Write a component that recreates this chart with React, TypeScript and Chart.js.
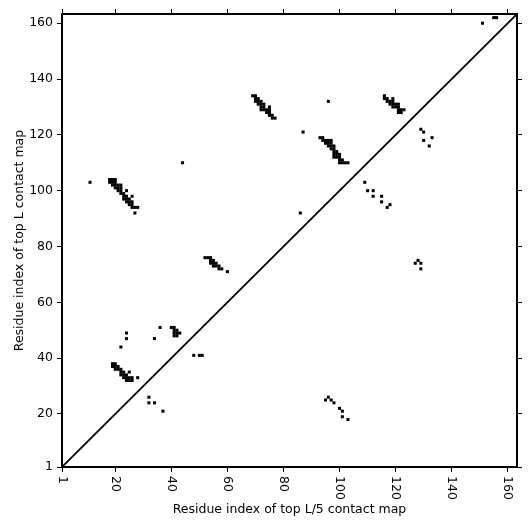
import React, { useEffect, useRef } from "react";
import { Chart, registerables } from "chart.js";

Chart.register(...registerables);

const AXIS_MIN = 1;
const AXIS_MAX = 163.3;
const tickValues = [1, 20, 40, 60, 80, 100, 120, 140, 160];
const xTitle = "Residue index of top L/5 contact map";
const yTitle = "Residue index of top L contact map";

// top L contacts (upper-left triangle): [x, y]
const topLContacts: [number, number][] = [
  [11, 103],
  [18, 104], [19, 104], [20, 104],
  [18, 103], [19, 103], [20, 103],
  [19, 102], [20, 102], [21, 102], [22, 102],
  [20, 101], [21, 101], [22, 101],
  [21, 100], [22, 100], [24, 100],
  [22, 99], [23, 99],
  [23, 98], [24, 98], [26, 98],
  [23, 97], [24, 97], [25, 97],
  [24, 96], [25, 96], [26, 96],
  [25, 95], [26, 95],
  [26, 94], [27, 94], [28, 94],
  [27, 92],
  [44, 110],
  [69, 134], [70, 134],
  [70, 133], [71, 133],
  [70, 132], [71, 132], [72, 132],
  [71, 131], [72, 131], [73, 131],
  [72, 130], [73, 130], [75, 130],
  [72, 129], [73, 129], [74, 129], [75, 129],
  [74, 128], [75, 128],
  [75, 127], [76, 127],
  [76, 126], [77, 126],
  [87, 121], [96, 132], [86, 92],
  [93, 119], [94, 119],
  [94, 118], [95, 118], [96, 118], [97, 118],
  [95, 117], [96, 117], [97, 117],
  [96, 116], [97, 116], [98, 116],
  [97, 115], [98, 115],
  [98, 114], [99, 114],
  [98, 113], [99, 113], [100, 113],
  [98, 112], [99, 112], [100, 112],
  [100, 111], [101, 111],
  [100, 110], [101, 110], [102, 110], [103, 110],
  [116, 134],
  [116, 133], [117, 133], [119, 133],
  [117, 132], [118, 132], [119, 132],
  [118, 131], [119, 131], [120, 131], [121, 131],
  [119, 130], [120, 130], [121, 130],
  [121, 129], [122, 129], [123, 129],
  [121, 128], [122, 128],
  [52, 76], [53, 76], [54, 76],
  [54, 75], [55, 75],
  [54, 74], [55, 74], [56, 74],
  [55, 73], [56, 73], [57, 73],
  [57, 72], [58, 72],
  [60, 71],
  [36, 51], [34, 47],
  [40, 51], [41, 51], [41, 50], [42, 50],
  [41, 49], [42, 49], [43, 49], [41, 48], [42, 48],
  [48, 41], [50, 41], [51, 41],
  [24, 49], [24, 47], [22, 44],
  [19, 38], [20, 38],
  [19, 37], [20, 37], [21, 37],
  [20, 36], [21, 36], [22, 36],
  [22, 35], [23, 35], [25, 35],
  [22, 34], [23, 34], [24, 34],
  [23, 33], [24, 33], [25, 33], [26, 33], [28, 33],
  [24, 32], [25, 32], [26, 32],
  [32, 26], [32, 24], [34, 24], [37, 21],
  [151, 160], [155, 162], [156, 162],
];

// top L/5 contacts (lower-right triangle): [x, y]
const topL5Contacts: [number, number][] = [
  [95, 25], [96, 26], [97, 25], [98, 24], [100, 22], [101, 21], [101, 19], [103, 18],
  [109, 103], [110, 100], [112, 100], [112, 98], [115, 98], [115, 96], [117, 94], [118, 95],
  [127, 74], [128, 75], [129, 74], [129, 72],
  [129, 122], [130, 121], [133, 119], [130, 118], [132, 116],
];

const FONT_FAMILY = '"DejaVu Sans", sans-serif';
const FONT_SIZE = 12.5;
const CELL_RADIUS = 2.15;

const setTicks = (scale: any) => {
  scale.ticks = tickValues.map((v) => ({ value: v }));
};

const rotatedXLabels = {
  id: "rotatedXLabels",
  afterDraw(chart: any) {
    const xs = chart.scales.x;
    const ctx = chart.ctx;
    ctx.save();
    ctx.font = `${FONT_SIZE}px ${FONT_FAMILY}`;
    ctx.fillStyle = "#000";
    ctx.textAlign = "left";
    ctx.textBaseline = "middle";
    for (const v of tickValues) {
      const px = xs.getPixelForValue(v);
      ctx.save();
      ctx.translate(px, chart.chartArea.bottom + 9);
      ctx.rotate(Math.PI / 2);
      ctx.fillText(String(v), 0, 0);
      ctx.restore();
    }
    ctx.restore();
  },
};

export default function App() {
  const ref = useRef<HTMLCanvasElement | null>(null);

  useEffect(() => {
    document.body.style.margin = "0";
    const canvas = ref.current;
    if (!canvas) return;
    const grid = {
      display: true,
      drawOnChartArea: false,
      drawTicks: true,
      tickLength: 5,
      color: "#000",
      lineWidth: 1,
    };
    const border = { display: true, color: "#000", width: 2 };
    const chart = new Chart(canvas, {
      type: "scatter",
      data: {
        datasets: [
          {
            type: "line",
            data: [
              { x: AXIS_MIN, y: AXIS_MIN },
              { x: AXIS_MAX, y: AXIS_MAX },
            ],
            borderColor: "#000",
            borderWidth: 1.8,
            pointRadius: 0,
            fill: false,
          } as any,
          {
            data: topLContacts.map(([x, y]) => ({ x, y })),
            pointStyle: "rect",
            pointRadius: CELL_RADIUS,
            backgroundColor: "#000",
            borderWidth: 0,
          },
          {
            data: topL5Contacts.map(([x, y]) => ({ x, y })),
            pointStyle: "rect",
            pointRadius: CELL_RADIUS,
            backgroundColor: "#000",
            borderWidth: 0,
          },
        ],
      },
      options: {
        animation: false,
        responsive: false,
        layout: { padding: 0 },
        plugins: {
          legend: { display: false },
          tooltip: { enabled: false },
        },
        elements: { point: { hoverRadius: CELL_RADIUS } },
        scales: {
          x: {
            type: "linear",
            position: "bottom",
            min: AXIS_MIN,
            max: AXIS_MAX,
            afterBuildTicks: setTicks,
            afterFit: (s: any) => {
              s.height = 64;
            },
            ticks: { display: false, autoSkip: false },
            grid,
            border,
            title: {
              display: true,
              text: xTitle,
              color: "#000",
              font: { family: FONT_FAMILY, size: FONT_SIZE },
              padding: { top: 0, bottom: 13.5 },
            },
          },
          y: {
            type: "linear",
            position: "left",
            min: AXIS_MIN,
            max: AXIS_MAX,
            afterBuildTicks: setTicks,
            afterFit: (s: any) => {
              s.width = 62;
            },
            ticks: {
              autoSkip: false,
              color: "#000",
              padding: 4,
              font: { family: FONT_FAMILY, size: FONT_SIZE },
              callback: (v: any) => String(v),
            },
            grid,
            border,
            title: {
              display: true,
              text: yTitle,
              color: "#000",
              font: { family: FONT_FAMILY, size: FONT_SIZE },
              padding: { top: 12.5, bottom: 0 },
            },
          },
          x2: {
            type: "linear",
            position: "top",
            min: AXIS_MIN,
            max: AXIS_MAX,
            afterBuildTicks: setTicks,
            afterFit: (s: any) => {
              s.height = 14;
            },
            ticks: { display: false, autoSkip: false },
            grid,
            border,
          },
          y2: {
            type: "linear",
            position: "right",
            min: AXIS_MIN,
            max: AXIS_MAX,
            afterBuildTicks: setTicks,
            afterFit: (s: any) => {
              s.width = 14;
            },
            ticks: { display: false, autoSkip: false },
            grid,
            border,
          },
        },
      },
      plugins: [rotatedXLabels],
    });
    return () => chart.destroy();
  }, []);

  return (
    <div style={{ width: 531, height: 531 }}>
      <canvas ref={ref} width={531} height={531} />
    </div>
  );
}
